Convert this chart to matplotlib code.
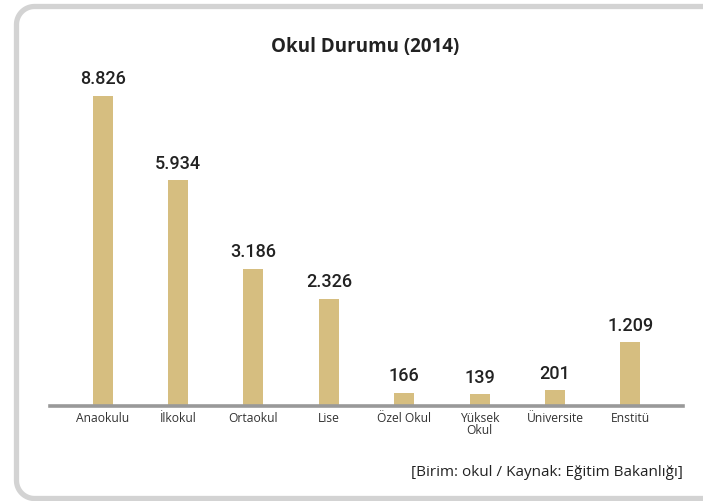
import matplotlib
matplotlib.use("Agg")
import matplotlib.pyplot as plt
import numpy as np

categories = ["Anaokulu", "İlkokul", "Ortaokul", "Lise", "Özel Okul", "Yüksek\nOkul", "Üniversite", "Enstitü"]
values = [8826, 5934, 3186, 2326, 166, 139, 201, 1209]
value_labels = ["8.826", "5.934", "3.186", "2.326", "166", "139", "201", "1.209"]
title = "Okul Durumu (2014)"
note = "[Birim: okul / Kaynak: Eğitim Bakanlığı]"

W, H = 703, 501
fig = plt.figure(figsize=(W / 100, H / 100), dpi=100)

# background frame (open on the right) in pixel coordinates
bg = fig.add_axes([0, 0, 1, 1], zorder=0)
bg.axis("off")
bg.set_xlim(0, W)
bg.set_ylim(H, 0)
r, x0, y0, y1, xr = 18, 16.5, 6.5, 498.5, 760
t1 = np.linspace(np.pi, 1.5 * np.pi, 20)
t2 = np.linspace(0.5 * np.pi, np.pi, 20)
top_arc_x = x0 + r + r * np.cos(t1)
top_arc_y = y0 + r + r * np.sin(t1)
bot_arc_x = x0 + r + r * np.cos(t2)
bot_arc_y = y1 - r + r * np.sin(t2)
fx = np.concatenate([[xr], top_arc_x[::-1], bot_arc_x[::-1], [xr]])
fy = np.concatenate([[y0], top_arc_y[::-1], bot_arc_y[::-1], [y1]])
bg.plot(fx, fy, color="#d3d3d3", lw=3.8, solid_capstyle="butt", clip_on=False)

# chart axes
left_px, right_px = 50, 683
base_px, top_px = 405.5, 96
ax = fig.add_axes([left_px / W, (H - base_px) / H, (right_px - left_px) / W, (base_px - top_px) / H], zorder=1)
ax.patch.set_alpha(0)

p = 0.8
ax.set_yscale("function", functions=(lambda v: np.sign(v) * np.abs(v) ** p,
                                     lambda v: np.sign(v) * np.abs(v) ** (1 / p)))
x = np.arange(len(categories))
ax.bar(x, values, width=0.266, color="#d6be80", zorder=2)
ax.set_xlim(-0.70, 7.70)
ax.set_ylim(0, max(values))

for xi, v, lab in zip(x, values, value_labels):
    ax.annotate(lab, (xi, v), xytext=(0, 5.5), textcoords="offset points",
                ha="center", va="bottom", fontsize=13, family="Roboto",
                fontweight="medium", color="#222222", annotation_clip=False)

for s in ["top", "left", "right"]:
    ax.spines[s].set_visible(False)
ax.spines["bottom"].set_color("#999999")
ax.spines["bottom"].set_linewidth(2.6)
ax.spines["bottom"].set_zorder(3)
ax.set_yticks([])
ax.set_xticks(x)
ax.set_xticklabels(categories, fontsize=8.7, family="Open Sans", color="#333333",
                   linespacing=0.95, va="top")
ax.tick_params(axis="x", length=0, pad=4.5)

fig.text(365 / W, 1 - 47 / H, title, ha="center", va="center", fontsize=13.5,
         fontweight="bold", family="Open Sans", color="#222222")
fig.text(683 / W, 1 - 473 / H, note, ha="right", va="center", fontsize=11,
         family="Open Sans", color="#222222")

fig.savefig("out.png", dpi=100)
